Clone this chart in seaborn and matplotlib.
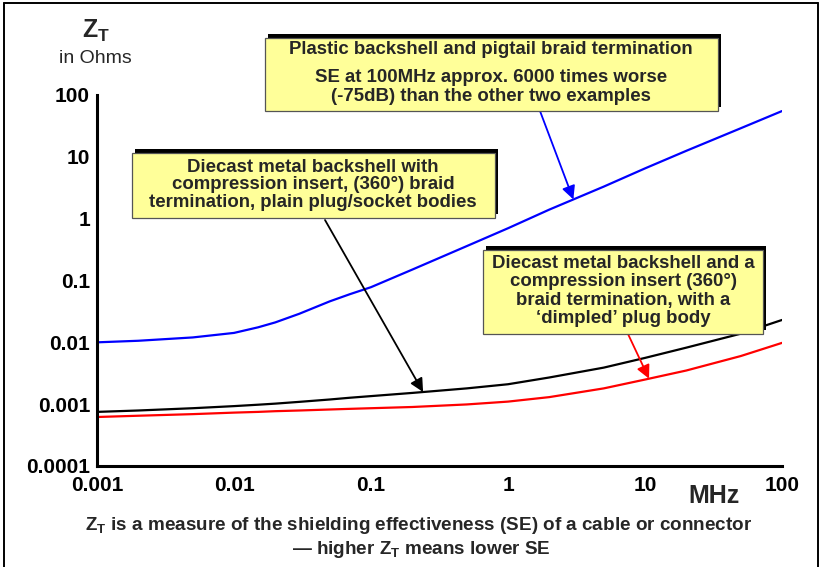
import numpy as np
import pandas as pd
import matplotlib
matplotlib.use("Agg")
import matplotlib.pyplot as plt
from matplotlib.patches import Rectangle
from matplotlib.lines import Line2D
import seaborn as sns

# Transfer impedance Z_T (ohms) versus frequency (MHz) for three connector terminations
freq_mhz = [0.001, 0.002, 0.005, 0.01, 0.015, 0.02, 0.03, 0.05, 0.07, 0.1, 0.2, 0.5,
            1, 2, 5, 10, 20, 50, 100]
zt_plastic_pigtail = [0.0100, 0.0106, 0.0120, 0.0142, 0.0175, 0.021, 0.029, 0.046, 0.060,
                      0.078, 0.15, 0.36, 0.70, 1.4, 3.3, 6.5, 12.5, 29, 55]
zt_diecast_plain = [0.00075, 0.00079, 0.00086, 0.00093, 0.00098, 0.00102, 0.00109, 0.00119,
                    0.00127, 0.00135, 0.00152, 0.00180, 0.0021, 0.0027, 0.0039, 0.0056,
                    0.0082, 0.0138, 0.023]
zt_diecast_dimpled = [0.00062, 0.00065, 0.00069, 0.00073, 0.00075, 0.00077, 0.00079, 0.00082,
                      0.00084, 0.00086, 0.00090, 0.00099, 0.00110, 0.0013, 0.0018, 0.0025,
                      0.0035, 0.0060, 0.0098]

series_names = ["plastic", "plain", "dimpled"]
series_colors = ["#0000ff", "#000000", "#ff0000"]

x_ticks = [0.001, 0.01, 0.1, 1, 10, 100]
x_tick_labels = ["0.001", "0.01", "0.1", "1", "10", "100"]
y_ticks = [0.0001, 0.001, 0.01, 0.1, 1, 10, 100]
y_tick_labels = ["0.0001", "0.001", "0.01", "0.1", "1", "10", "100"]

box_plastic = ["Plastic backshell and pigtail braid termination",
               "SE at 100MHz approx. 6000 times worse\n(-75dB) than the other two examples"]
box_plain = "Diecast metal backshell with\ncompression insert, (360°) braid\ntermination, plain plug/socket bodies"
box_dimpled = "Diecast metal backshell and a\ncompression insert (360°)\nbraid termination, with a\n‘dimpled’ plug body"

df = pd.DataFrame({
    "freq": freq_mhz * 3,
    "zt": zt_plastic_pigtail + zt_diecast_plain + zt_diecast_dimpled,
    "series": [n for n in series_names for _ in freq_mhz],
})

sns.set_theme(style="white")
plt.rcParams["font.family"] = ["Liberation Sans", "DejaVu Sans"]
plt.rcParams["mathtext.fontset"] = "custom"
plt.rcParams["mathtext.rm"] = "Liberation Sans"
plt.rcParams["mathtext.bf"] = "Liberation Sans:bold"

W, H = 824, 567
fig = plt.figure(figsize=(W / 100, H / 100), dpi=100)
fig.patch.set_facecolor("white")


def fx(px):
    return px / W


def fy(py):
    return 1 - py / H


ax = fig.add_axes([fx(97), fy(466), fx(782) - fx(97), fy(95) - fy(466)])
sns.lineplot(data=df, x="freq", y="zt", hue="series", hue_order=series_names,
             palette=series_colors, linewidth=1.6, legend=False, ax=ax)

ax.set_xscale("log")
ax.set_yscale("log")
ax.set_xlim(0.001, 100)
ax.set_ylim(0.0001, 100)
ax.set_xticks(x_ticks)
ax.set_xticklabels(x_tick_labels, fontsize=15, fontweight="bold")
ax.set_yticks(y_ticks)
ax.set_yticklabels(y_tick_labels, fontsize=15, fontweight="bold")
ax.minorticks_off()
ax.set_xlabel("")
ax.set_ylabel("")
ax.tick_params(direction="in", length=6, width=2.2, colors="black", pad=7)
ax.tick_params(axis="y", pad=5)
for side in ["top", "right"]:
    ax.spines[side].set_visible(False)
for side in ["left", "bottom"]:
    ax.spines[side].set_color("black")
    ax.spines[side].set_linewidth(2.2)
ax.patch.set_alpha(0)

# Axis titles
fig.text(fx(82), fy(38), r"$\mathbf{Z_T}$", fontsize=18, ha="left", va="baseline")
fig.text(fx(95), fy(63), "in Ohms", fontsize=14, ha="center", va="baseline")
fig.text(fx(714), fy(503), "MHz", fontsize=18, fontweight="bold", ha="center", va="baseline")

# Footnote
fig.text(fx(419), fy(530), r"$\mathbf{Z_T}$ is a measure of the shielding effectiveness (SE) of a cable or connector",
         fontsize=13.6, fontweight="bold", ha="center", va="baseline")
fig.text(fx(421), fy(554), r"— higher $\mathbf{Z_T}$ means lower SE",
         fontsize=13.6, fontweight="bold", ha="center", va="baseline")


def callout(x0, y0, x1, y1):
    shadow = Rectangle((fx(x0 + 3), fy(y1 - 4)), fx(x1) - fx(x0), fy(y0) - fy(y1),
                       transform=fig.transFigure, facecolor="black", edgecolor="black",
                       linewidth=0, zorder=5)
    box = Rectangle((fx(x0), fy(y1)), fx(x1) - fx(x0), fy(y0) - fy(y1),
                    transform=fig.transFigure, facecolor="#ffff99", edgecolor="#555555",
                    linewidth=0.9, zorder=6)
    fig.add_artist(shadow)
    fig.add_artist(box)


callout(265, 38, 718, 111)
callout(132, 153, 495, 218)
callout(483, 250, 763, 334)

box_font = dict(fontsize=13.4, fontweight="bold", ha="center", va="center", zorder=7)
fig.text(fx(491), fy(50), box_plastic[0], **box_font)
fig.text(fx(491), fy(87), box_plastic[1], linespacing=1.1, **box_font)
fig.text(fx(313), fy(185), box_plain, linespacing=1.06, **box_font)
fig.text(fx(623), fy(291), box_dimpled, linespacing=1.08, **box_font)


def on_curve(f, values):
    return 10 ** np.interp(np.log10(f), np.log10(freq_mhz), np.log10(values))


def pointer(f, values, color, start_px):
    ax.annotate("", xy=(f, on_curve(f, values)), xycoords="data",
                xytext=(start_px[0], H - start_px[1]), textcoords="figure pixels",
                arrowprops=dict(arrowstyle="-|>", color=color, lw=1.3,
                                mutation_scale=20, shrinkA=0, shrinkB=0),
                zorder=8, annotation_clip=False)


pointer(3.0, zt_plastic_pigtail, "#0000ff", (540, 111))
pointer(0.24, zt_diecast_plain, "#000000", (325, 220))
pointer(10.7, zt_diecast_dimpled, "#ff0000", (628, 334))

# Outer frame
frame_kw = dict(color="black", linewidth=1.4, transform=fig.transFigure)
fig.add_artist(Line2D([fx(4), fx(4)], [fy(3), 0], **frame_kw))
fig.add_artist(Line2D([fx(4), fx(818)], [fy(3), fy(3)], **frame_kw))
fig.add_artist(Line2D([fx(818), fx(818)], [fy(3), 0], **frame_kw))

fig.savefig("out.png", dpi=100, facecolor="white")
